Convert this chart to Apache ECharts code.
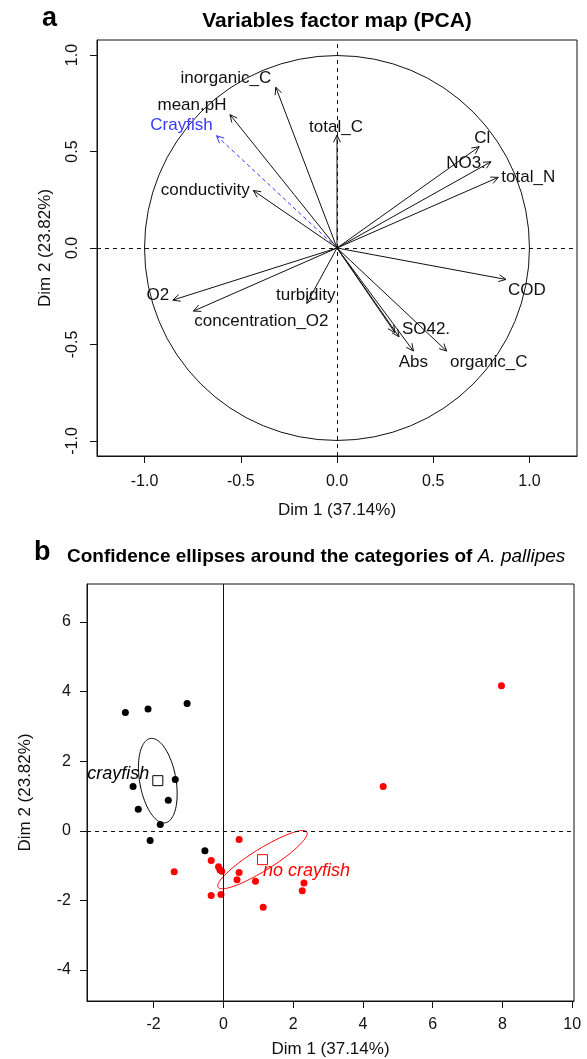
<!DOCTYPE html>
<html><head><meta charset="utf-8">
<script src="https://cdn.jsdelivr.net/npm/echarts@6/dist/echarts.min.js"></script>
<style>html,body{margin:0;padding:0;background:#fff}#c{width:587px;height:1059px}</style>
</head><body><div id="c"></div>
<script>
// ---------- Panel a: variables factor map (PCA) ----------
const varNames = ['inorganic_C','mean.pH','Crayfish','total_C','conductivity','Cl','NO3.','total_N','O2','concentration_O2','turbidity','COD','','SO42.','Abs','organic_C'];
const varDim1  = [-0.318,-0.556,-0.626,0.000,-0.435,0.739,0.800,0.838,-0.853,-0.746,-0.157,0.878,0.301,0.322,0.397,0.570];
const varDim2  = [0.833,0.691,0.582,0.585,0.298,0.525,0.447,0.366,-0.270,-0.327,-0.287,-0.163,-0.439,-0.460,-0.534,-0.534];
const supplementaryVars = ['Crayfish'];
const ticksA = [-1.0,-0.5,0.0,0.5,1.0];

// ---------- Panel b: individuals with confidence ellipses ----------
const crayfishDim1 = [-2.81,-2.16,-1.04,-2.59,-1.38,-2.44,-1.58,-1.81,-2.10,-0.53];
const crayfishDim2 = [3.40,3.50,3.66,1.27,1.47,0.62,0.88,0.18,-0.28,-0.57];
const noCrayfishDim1 = [0.45,-0.35,-0.14,-0.10,-0.05,-1.41,0.45,0.39,0.92,-0.35,-0.07,1.14,2.31,2.26,4.58,7.97];
const noCrayfishDim2 = [-0.25,-0.85,-1.03,-1.12,-1.16,-1.18,-1.20,-1.41,-1.45,-1.86,-1.83,-2.20,-1.50,-1.72,1.27,4.17];
const groupNames = ['crayfish','no crayfish'];
const groupCentreDim1 = [-1.88, 1.12];
const groupCentreDim2 = [1.44, -0.83];
const ellipseSemiMajor = [1.23, 1.50];
const ellipseSemiMinor = [0.52, 0.31];
const ellipseAngleDeg = [100, 32];
const ticksBx = [-2,0,2,4,6,8,10];
const ticksBy = [-4,-2,0,2,4,6];

// ---------- layout / style ----------
const FONT = '"Liberation Sans", Arial, Helvetica, sans-serif';
const INK = '#111';
const labelOffset = {
  'inorganic_C':[-50,-9], 'mean.pH':[-38,-9], 'Crayfish':[-35,-10], 'total_C':[-1,-8],
  'conductivity':[-48,0], 'Cl':[3,-8], 'NO3.':[-25,2], 'total_N':[30,0],
  'O2':[-15,-5], 'concentration_O2':[68,10], 'turbidity':[-1,-8], 'COD':[21,11],
  'SO42.':[27,-7], 'Abs':[0,11], 'organic_C':[42,11]
};

function axisCommon(ticks, fmt, rotate, margin) {
  return {
    axisLine: {show: true, onZero: false, lineStyle: {color: INK, width: 1}},
    axisTick: {show: true, inside: false, length: 7, customValues: ticks, lineStyle: {color: INK}},
    axisLabel: {show: true, customValues: ticks, formatter: fmt, rotate: rotate, margin: margin,
      color: INK, fontSize: 16, fontFamily: FONT},
    splitLine: {show: false},
    nameTextStyle: {color: INK, fontSize: 17, fontFamily: FONT}
  };
}

const arrowData = varDim1.map((x, i) => [x, varDim2[i], i]);
const crayPts = crayfishDim1.map((x, i) => [x, crayfishDim2[i]]);
const noCrayPts = noCrayfishDim1.map((x, i) => [x, noCrayfishDim2[i]]);
const ellipseData = groupNames.map((n, i) => [groupCentreDim1[i], groupCentreDim2[i], ellipseSemiMajor[i], ellipseSemiMinor[i], ellipseAngleDeg[i], i]);
const groupColors = ['#000000', '#ff0000'];

const option = {
  animation: false,
  backgroundColor: '#fff',
  grid: [
    {left: 97, width: 480, top: 40, height: 416, show: true, borderColor: INK, borderWidth: 1, containLabel: false},
    {left: 87, width: 487, top: 584, height: 417, show: true, borderColor: INK, borderWidth: 1, containLabel: false}
  ],
  xAxis: [
    Object.assign({type: 'value', gridIndex: 0, min: -1.247, max: 1.247, name: 'Dim 1 (37.14%)', nameLocation: 'middle', nameGap: 46},
      axisCommon(ticksA, v => v.toFixed(1), 0, 18)),
    Object.assign({type: 'value', gridIndex: 1, min: -3.91, max: 10.05, name: 'Dim 1 (37.14%)', nameLocation: 'middle', nameGap: 40},
      axisCommon(ticksBx, v => String(v), 0, 16))
  ],
  yAxis: [
    Object.assign({type: 'value', gridIndex: 0, min: -1.078, max: 1.078, name: 'Dim 2 (23.82%)', nameLocation: 'middle', nameGap: 43},
      axisCommon(ticksA, v => v.toFixed(1), 90, 16)),
    Object.assign({type: 'value', gridIndex: 1, min: -4.89, max: 7.09, name: 'Dim 2 (23.82%)', nameLocation: 'middle', nameGap: 53},
      axisCommon(ticksBy, v => String(v), 0, 16))
  ],
  graphic: [
    {type: 'text', left: 42, top: 5, style: {text: 'a', font: 'bold 27px ' + FONT, fill: '#000'}},
    {type: 'text', x: 337, y: 21, style: {text: 'Variables factor map (PCA)', font: 'bold 21px ' + FONT, fill: '#000', align: 'center', verticalAlign: 'middle', textAlign: 'center', textVerticalAlign: 'middle'}},
    {type: 'text', left: 34, top: 539, style: {text: 'b', font: 'bold 27px ' + FONT, fill: '#000'}},
    {type: 'text', left: 67, top: 547, style: {
      text: '{b|Confidence ellipses around the categories of }{i|A. pallipes}',
      rich: {
        b: {font: 'bold 19px ' + FONT, fill: '#000', color: '#000'},
        i: {font: 'italic 19px ' + FONT, fill: '#000', color: '#000'}
      }}}
  ],
  series: [
    // zero reference lines, panel a
    {type: 'line', xAxisIndex: 0, yAxisIndex: 0, data: [], silent: true,
      markLine: {silent: true, symbol: 'none', label: {show: false},
        lineStyle: {color: INK, width: 1, type: [4, 4]},
        data: [{xAxis: 0}, {yAxis: 0}]}},
    // correlation circle
    {type: 'custom', xAxisIndex: 0, yAxisIndex: 0, silent: true, data: [[0, 0]],
      renderItem: function (params, api) {
        const c = api.coord([0, 0]);
        const r = api.coord([1, 0])[0] - c[0];
        return {type: 'circle', shape: {cx: c[0], cy: c[1], r: r}, style: {fill: 'none', stroke: INK, lineWidth: 1}};
      }},
    // variable arrows
    {type: 'custom', xAxisIndex: 0, yAxisIndex: 0, silent: true, data: arrowData,
      renderItem: function (params, api) {
        const x = api.value(0), y = api.value(1), i = api.value(2);
        const name = varNames[i];
        const o = api.coord([0, 0]), t = api.coord([x, y]);
        const ang = Math.atan2(t[1] - o[1], t[0] - o[0]);
        const L = 8, w = Math.PI / 7;
        const h1 = [t[0] - L * Math.cos(ang - w), t[1] - L * Math.sin(ang - w)];
        const h2 = [t[0] - L * Math.cos(ang + w), t[1] - L * Math.sin(ang + w)];
        const sup = supplementaryVars.indexOf(name) >= 0;
        const col = sup ? '#3a3aff' : INK;
        const off = labelOffset[name] || [0, 0];
        const children = [
          {type: 'line', shape: {x1: o[0], y1: o[1], x2: t[0], y2: t[1]}, style: {stroke: col, lineWidth: 1, lineDash: sup ? [4, 3] : null}},
          {type: 'polyline', shape: {points: [h1, t, h2]}, style: {stroke: col, fill: 'none', lineWidth: 1}}
        ];
        if (name) {
          children.push({type: 'text', x: t[0] + off[0], y: t[1] + off[1],
            style: {text: name, fill: col, font: '17px ' + FONT, align: 'center', verticalAlign: 'middle', textAlign: 'center', textVerticalAlign: 'middle'}});
        }
        return {type: 'group', children: children};
      }},
    // zero reference lines, panel b
    {type: 'line', xAxisIndex: 1, yAxisIndex: 1, data: [], silent: true,
      markLine: {silent: true, symbol: 'none', label: {show: false},
        data: [
          {yAxis: 0, lineStyle: {color: INK, width: 1, type: [4, 4]}},
          {xAxis: 0, lineStyle: {color: INK, width: 1, type: 'solid'}}
        ]}},
    // confidence ellipses
    {type: 'custom', xAxisIndex: 1, yAxisIndex: 1, silent: true, data: ellipseData,
      renderItem: function (params, api) {
        const cx = api.value(0), cy = api.value(1), a = api.value(2), b = api.value(3);
        const th = api.value(4) * Math.PI / 180, gi = api.value(5);
        const pts = [];
        for (let k = 0; k <= 120; k++) {
          const t = k / 120 * 2 * Math.PI;
          const ex = a * Math.cos(t), ey = b * Math.sin(t);
          pts.push(api.coord([cx + ex * Math.cos(th) - ey * Math.sin(th), cy + ex * Math.sin(th) + ey * Math.cos(th)]));
        }
        return {type: 'polyline', shape: {points: pts}, style: {stroke: groupColors[gi], fill: 'none', lineWidth: 1}};
      }},
    {type: 'scatter', xAxisIndex: 1, yAxisIndex: 1, data: crayPts, symbol: 'circle', symbolSize: 7,
      itemStyle: {color: '#000', opacity: 1}, silent: true},
    {type: 'scatter', xAxisIndex: 1, yAxisIndex: 1, data: noCrayPts, symbol: 'circle', symbolSize: 7,
      itemStyle: {color: '#ff0000', opacity: 1}, silent: true},
    // group centres with labels
    {type: 'scatter', xAxisIndex: 1, yAxisIndex: 1, silent: true, symbol: 'rect', symbolSize: 10,
      data: groupNames.map((n, i) => ({
        name: n, value: [groupCentreDim1[i], groupCentreDim2[i]],
        itemStyle: {color: '#fff', borderColor: groupColors[i], borderWidth: 1, opacity: 1},
        label: i === 0
          ? {show: true, position: 'left', distance: 3, offset: [0, -7], formatter: '{b}', color: groupColors[i], fontStyle: 'italic', fontSize: 18, fontFamily: FONT}
          : {show: true, position: 'right', distance: 0, offset: [-5, 11], formatter: '{b}', color: groupColors[i], fontStyle: 'italic', fontSize: 18, fontFamily: FONT}
      }))}
  ]
};

const chart = echarts.init(document.getElementById('c'), null, {renderer: 'canvas'});
chart.setOption(option);
</script>
</body></html>
